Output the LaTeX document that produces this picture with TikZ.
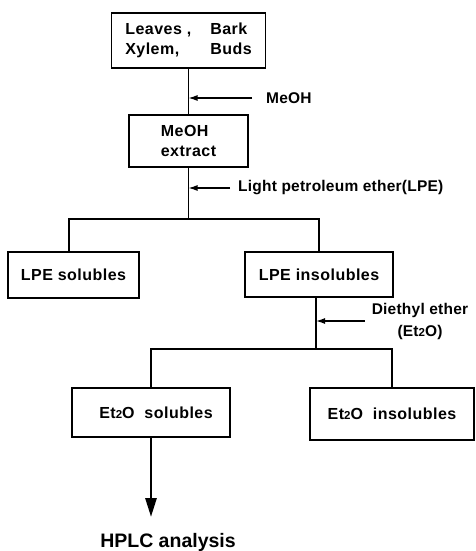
\documentclass[tikz,border=0pt]{standalone}
\usepackage{fontspec}
\setmainfont{Liberation Sans}
\newfontfamily\bxfam[LetterSpace=3]{Liberation Sans}
\newfontfamily\lbfam[LetterSpace=1.5]{Liberation Sans}
\newcommand\bxfont{\bxfam\bfseries\fontsize{16}{20.5}\selectfont}
\newcommand\lbfont{\lbfam\bfseries\fontsize{15.5}{22}\selectfont}
\newcommand\hpfont{\bfseries\fontsize{19.5}{23}\selectfont}
\newcommand\etsub{{\fontsize{11.5}{11.5}\selectfont 2}}
\usetikzlibrary{arrows.meta}
\begin{document}
\begin{tikzpicture}[x=1pt,y=-1pt,
  box/.style={draw,line width=1.4pt,inner sep=0pt,font=\bxfont,align=left},
  flow/.style={line width=1.4pt},
  reag/.style={line width=1.3pt,-{Latex[length=9pt,width=6pt]}},
  lab/.style={font=\lbfont,inner sep=0pt},
  big/.style={line width=2.8pt,-{Triangle[length=19pt,width=11pt]}}]
\useasboundingbox (0,0) rectangle (475,551);
% boxes
\node[box,minimum width=154pt,minimum height=55pt] (src) at (188.5,40.5)
  {\begin{tabular}{@{}p{85pt}@{}l@{}}Leaves ,&Bark\\Xylem,&Buds\end{tabular}};
\node[box,minimum width=119pt,minimum height=52pt] (ext) at (188.5,141)
  {MeOH\\extract};
\node[box,minimum width=131pt,minimum height=46pt] (ls) at (73.5,275)
  {LPE solubles};
\node[box,minimum width=148pt,minimum height=45pt] (li) at (319,274.5)
  {LPE insolubles};
\node[box,minimum width=158pt,minimum height=49pt] (es) at (151,412.5)
  {\hspace*{10pt}Et\etsub O\ \ solubles};
\node[box,minimum width=164pt,minimum height=52pt] (ei) at (392,414)
  {Et\etsub O\ \ insolubles};
% labels
\node[lab,anchor=west] (meoh) at (266,98) {MeOH};
\node[lab,anchor=west] (lpe) at (238,188) {Light petroleum ether(LPE)};
\node[lab,align=center] (dee) at (420,321) {Diethyl ether\\(Et\etsub O)};
\node[font=\hpfont,inner sep=0pt] (hplc) at (168,542) {HPLC analysis};
% junctions
\coordinate (j1) at (188.5,219);
\coordinate (j2) at (316,349);
\coordinate (hp) at (151,517);
% flow lines
\draw[flow] (src.south) -- (ext.north);
\draw[flow] (ext.south) -- (j1);
\draw[flow] ([xshift=-4.5pt]ls.north) -- ([xshift=-4.5pt]ls.north |- j1) -- (li.north |- j1) -- (li.north);
\draw[flow] ([xshift=-3pt]li.south) -- (j2);
\draw[flow] (es.north) -- (es.north |- j2) -- (ei.north |- j2) -- (ei.north);
\draw[big] (es.south) -- (hp);
% reagent arrows
\draw[reag] ([xshift=-14pt]meoh.west) -- (meoh.west -| src.south);
\draw[reag] ([xshift=-8pt]lpe.west) -- (lpe.west -| ext.south);
\draw[reag] ([xshift=-7pt]dee.west) -- (dee.west -| j2);
\end{tikzpicture}
\end{document}
